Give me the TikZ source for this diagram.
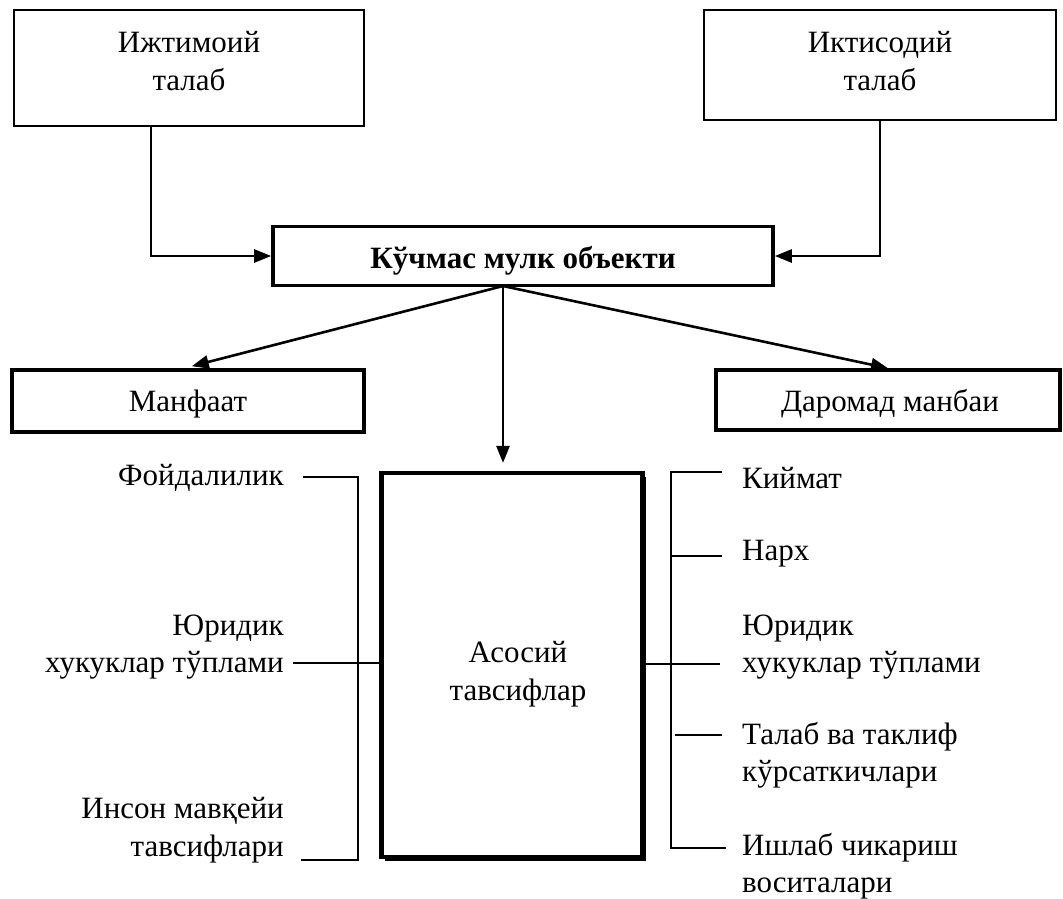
\documentclass[tikz,border=0pt]{standalone}
\usepackage{fontspec}
\setmainfont{Liberation Serif}
\usetikzlibrary{arrows.meta,shadows}

\begin{document}
\begin{tikzpicture}[x=1pt, y=-1pt, >={Triangle[length=17pt, width=13pt]},
  every node/.style={font=\fontsize{31}{37.5}\selectfont},
  thinbox/.style={draw, line width=2pt, align=center},
  thickbox/.style={draw, line width=3.6pt, align=center},
  boxtext/.style={align=center, inner sep=0pt},
  arrowline/.style={->, line width=2.6pt},
  bracket/.style={line width=1.8pt},
  lefttext/.style={anchor=east, inner sep=0pt, align=right},
  righttext/.style={anchor=west, inner sep=0pt, align=left}]
\useasboundingbox (0,0) rectangle (1063,898);

% top boxes
\node[thinbox, minimum width=350pt, minimum height=116pt] (social) at (189,68) {};
\node[boxtext] (socialtxt) at (189,61) {Ижтимоий\\талаб};
\node[thinbox, minimum width=352pt, minimum height=110pt] (economic) at (880,65) {};
\node[boxtext] (economictxt) at (880,61) {Иктисодий\\талаб};
\node[thickbox, minimum width=500pt, minimum height=59pt] (object) at (523,256) {};
\node[boxtext, font=\fontsize{31}{37.5}\selectfont\bfseries] (objecttxt) at (523,261) {Кўчмас мулк объекти};

% middle row
\node[thickbox, minimum width=352pt, minimum height=62pt] (manfaat) at (188,401) {};
\node[boxtext] (manfaattxt) at (188,404) {Манфаат};
\node[thickbox, minimum width=344pt, minimum height=60pt] (daromad) at (888,400) {};
\node[boxtext] (daromadtxt) at (890,404) {Даромад манбаи};
\node[thickbox, line width=4.2pt, fill=white,
  drop shadow={shadow xshift=3.5pt, shadow yshift=-3.5pt, fill=black, opacity=1},
  minimum width=261pt, minimum height=384pt] (features) at (512,665) {};
\node[boxtext] (featurestxt) at (518,674) {Асосий\\тавсифлар};

% arrows
\coordinate (hub) at (503,286);
\draw[arrowline] ([xshift=-38pt]social.south) |- (object.west);
\draw[arrowline] (economic.south) |- (object.east);
\draw[arrowline, shorten >=8pt] (hub) -- ([xshift=-4pt]manfaat.north);
\draw[arrowline] (hub) -- (daromad.north);
\draw[arrowline, shorten >=8pt] (hub) -- (hub |- features.north);

% left side
\node[lefttext] (fay) at (284,478) {Фойдалилик};
\node[lefttext] (legalL) at (284,647) {Юридик\\хукуклар тўплами};
\node[lefttext] (human) at (284,830) {Инсон мавқейи\\тавсифлари};
\coordinate (lt) at (358,477);
\coordinate (lb) at (358,860);
\coordinate (lm) at (293,663);
\draw[bracket] ([xshift=19pt]fay.east |- lt) -- (lt) -- (lb) -- (301,860);
\draw[bracket] (lm) -- (lm -| features.west);

% right side
\node[righttext] (kiymat) at (742,478) {Киймат};
\node[righttext] (narx) at (742,554) {Нарх};
\node[righttext] (legalR) at (742,647) {Юридик\\хукуклар тўплами};
\node[righttext] (supply) at (742,755) {Талаб ва таклиф\\кўрсаткичлари};
\node[righttext] (means) at (742,866) {Ишлаб чикариш\\воситалари};
\coordinate (rt) at (671,472);
\coordinate (rb) at (671,848);
\coordinate (rm) at (720,664);
\draw[bracket] (722,472) -- (rt) -- (rb) -- (726,848);
\draw[bracket] (671,556) -- (722,556);
\draw[bracket] (rm) -- (rm -| features.east);
\draw[bracket] (675,735) -- (722,735);
\end{tikzpicture}
\end{document}
